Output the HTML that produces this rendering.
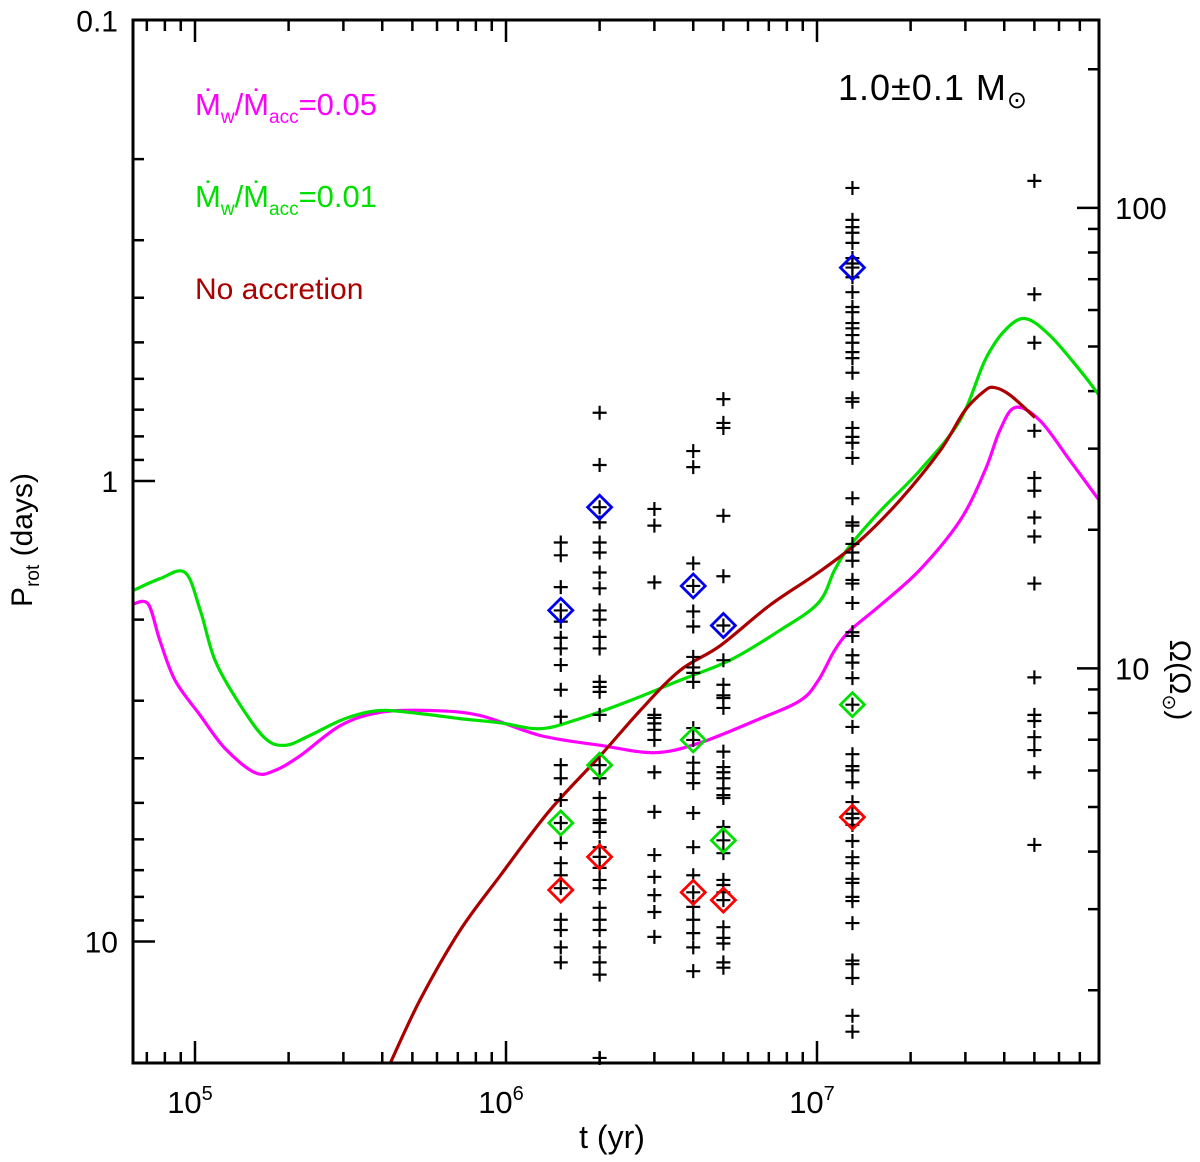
<!DOCTYPE html>
<html><head><meta charset="utf-8"><style>
html,body{margin:0;padding:0;background:#fff;}
svg{display:block;}
text{font-family:"Liberation Sans",sans-serif;}
</style></head><body>
<svg id="chart" width="1200" height="1162" viewBox="0 0 1200 1162" xmlns="http://www.w3.org/2000/svg">
<defs><clipPath id="plotclip"><rect x="133" y="20" width="966" height="1043"/></clipPath></defs>
<g id="ticks"></g>
<g id="curves" clip-path="url(#plotclip)"></g>
<g id="points"></g>
<rect x="133" y="20" width="966" height="1043" fill="none" stroke="#000" stroke-width="3"/>
<g id="labels"></g>
<text x="32" y="540" font-size="30" text-anchor="middle" transform="rotate(-90 32 540)">P<tspan font-size="19" dy="7">rot</tspan><tspan dy="-7"> (days)</tspan></text>
<text x="612" y="1148" font-size="32" text-anchor="middle" font-family="Liberation Serif, serif">t (yr)</text>
<text x="1170" y="680" font-size="30" text-anchor="middle" transform="rotate(90 1170 680)">Ω(Ω<tspan font-size="19" dy="7">⊙</tspan><tspan dy="-7">)</tspan></text>
<text x="195" y="115" font-size="31" fill="#ff00ff">Ṁ<tspan font-size="19" dy="8">w</tspan><tspan dy="-8">/Ṁ</tspan><tspan font-size="19" dy="8">acc</tspan><tspan dy="-8">=0.05</tspan></text>
<text x="195" y="207" font-size="31" fill="#00e000">Ṁ<tspan font-size="19" dy="8">w</tspan><tspan dy="-8">/Ṁ</tspan><tspan font-size="19" dy="8">acc</tspan><tspan dy="-8">=0.01</tspan></text>
<text x="195" y="299" font-size="30" fill="#aa0000" font-family="Liberation Mono, monospace">No accretion</text>
<text x="838" y="100" font-size="36" fill="#000" font-family="Liberation Serif, serif" letter-spacing="1">1.0±0.1  M<tspan font-size="24" dy="8">⊙</tspan></text>
</svg>
<script>
// ---- data ----
const magT=[6.32e4,7.07e4,7.71e4,8.63e4,1.04e5,1.25e5,1.56e5,1.81e5,2.18e5,2.93e5,3.93e5,5.70e5,8.25e5,1.29e6,2.01e6,3.01e6,4.21e6,6.56e6,8.82e6,1.01e7,1.14e7,1.28e7,1.60e7,2.14e7,2.88e7,3.47e7,3.87e7,4.34e7,5.21e7,6.51e7,8.07e7];
const magP=[1.85,1.85,2.22,2.71,3.23,3.81,4.30,4.25,3.95,3.40,3.18,3.15,3.23,3.57,3.75,3.89,3.70,3.28,3.00,2.71,2.33,2.11,1.86,1.56,1.22,0.949,0.777,0.692,0.739,0.903,1.10];
const grnT=[6.32e4,7.71e4,9.29e4,1.04e5,1.16e5,1.40e5,1.68e5,1.95e5,2.34e5,3.04e5,3.93e5,5.29e5,7.11e5,9.57e5,1.29e6,1.73e6,2.50e6,3.62e6,5.25e6,7.60e6,1.01e7,1.14e7,1.28e7,1.60e7,2.14e7,2.88e7,3.47e7,4.02e7,4.67e7,5.61e7,7.01e7,8.07e7];
const grnP=[1.73,1.63,1.58,1.91,2.45,3.07,3.62,3.75,3.57,3.28,3.15,3.20,3.28,3.35,3.45,3.28,3.00,2.71,2.45,2.11,1.84,1.56,1.38,1.16,0.949,0.739,0.547,0.471,0.444,0.483,0.575,0.651];
const redT=[4.24e5,5.29e5,7.11e5,9.57e5,1.38e6,2.01e6,2.70e6,3.62e6,4.88e6,7.06e6,1.01e7,1.37e7,1.85e7,2.49e7,2.99e7,3.47e7,3.73e7,4.18e7,5.02e7];
const redP=[18.4,13.4,9.47,7.20,5.20,3.95,3.15,2.58,2.28,1.86,1.58,1.35,1.10,0.859,0.703,0.636,0.627,0.651,0.728];
const colAges=[1.5e6,2e6,3e6,4e6,5e6,1.3e7,5e7];
const colP0=[1.36,1.45,1.70,1.91,2.02,2.19,2.31,2.51,2.84,3.25,4.14,4.42,4.93,5.53,6.11,6.76,7.18,7.66,8.97,9.44,10.3,11.1];
const colP1=[0.711,0.923,1.14,1.23,1.36,1.43,1.58,1.71,1.91,2.00,2.18,2.31,2.73,2.80,2.87,3.22,4.14,4.42,4.88,5.18,5.44,5.53,5.78,6.24,6.55,6.92,7.35,7.66,8.45,8.97,9.44,10.3,11.1,11.8,17.9];
const colP2=[1.15,1.25,1.66,3.22,3.27,3.36,3.47,3.65,4.29,5.23,6.49,7.24,7.93,8.63,9.77];
const colP3=[0.861,0.933,1.51,1.69,1.92,2.07,2.41,2.54,2.61,2.73,3.44,3.65,4.09,4.31,4.53,5.26,6.24,7.18,7.82,8.41,8.97,9.59,10.3,11.6];
const colP4=[0.664,0.748,0.767,1.19,1.61,2.06,2.45,2.77,2.92,2.96,3.11,3.87,4.18,4.29,4.42,4.65,4.81,4.88,5.64,6.03,6.43,7.35,7.54,7.82,8.13,9.31,9.82,10.1,11.1,11.4];
const colP5=[0.231,0.271,0.281,0.289,0.304,0.328,0.337,0.344,0.361,0.389,0.419,0.430,0.454,0.466,0.482,0.501,0.525,0.541,0.582,0.661,0.673,0.767,0.802,0.826,0.891,1.09,1.23,1.25,1.37,1.43,1.49,1.64,1.67,1.84,2.13,2.17,2.39,2.48,2.68,3.06,3.42,3.92,4.16,4.25,4.51,4.98,5.28,5.40,5.58,6.05,6.56,6.76,7.31,7.46,8.00,8.17,9.12,11.0,11.2,12.0,14.5,15.7];
const colP6=[0.223,0.393,0.501,0.778,0.985,1.05,1.20,1.32,1.67,2.67,3.22,3.32,3.60,3.84,4.29,6.17];
const diamondAges=[1.5e6,2e6,4e6,5e6,1.3e7];
const blueP=[1.91,1.14,1.69,2.06,0.344];
const greenDP=[5.53,4.14,3.65,6.03,3.06];
const redDP=[7.73,6.55,7.82,8.13,5.37];
const xTickLabels=["5","6","7"];
const yTickLabels=["0.1","1","10"];
const omegaTickLabels=["100","10"];

// ---- axes ----
const X0=195, XD=311, Y0=481, YD=460.5, L=133, R=1099, T=20, B=1063;
const OMK=25.52;
function xs(t){return X0+XD*(Math.log10(t)-5);}
function ys(p){return Y0+YD*Math.log10(p);}
const NS="http://www.w3.org/2000/svg";
function mk(tag,attrs,parent){const e=document.createElementNS(NS,tag);for(const k in attrs)e.setAttribute(k,attrs[k]);parent.appendChild(e);return e;}
const ticks=document.getElementById('ticks'), labels=document.getElementById('labels');
function line(x1,y1,x2,y2,name){const l=mk('line',{x1:x1,y1:y1,x2:x2,y2:y2,stroke:'#000','stroke-width':2.5},ticks);

}
for(let d=4;d<=7;d++){for(let m=1;m<=9;m++){const t=m*Math.pow(10,d);const x=xs(t);if(x<L+2||x>R-2)continue;const len=m===1?22:11;line(x,B,x,B-len,'x-tick');line(x,T,x,T+len,'x-tick-top');}}
xTickLabels.forEach((e,i)=>{const x=xs(Math.pow(10,+e));const tx=mk('text',{x:x-5,y:1113,'font-size':31,'text-anchor':'middle','font-family':'Liberation Serif, serif'},labels);tx.textContent='10';const s=mk('tspan',{'font-size':20,dy:-13},tx);s.textContent=e;

});
for(let d=-1;d<=1;d++){for(let m=1;m<=9;m++){const p=m*Math.pow(10,d);const y=ys(p);if(y<T+1||y>B-1)continue;line(L,y,L+(m===1?22:11),y,'y-tick');}}
yTickLabels.forEach(s=>{const y=ys(parseFloat(s));const tx=mk('text',{x:118,y:y+11,'font-size':30,'text-anchor':'end'},labels);tx.textContent=s;

});
for(let d=0;d<=2;d++){for(let m=1;m<=9;m++){const om=m*Math.pow(10,d);const y=ys(OMK/om);if(y<T+1||y>B-1)continue;line(R,y,R-(m===1?22:11),y,'omega-tick');}}
omegaTickLabels.forEach(s=>{const y=ys(OMK/parseFloat(s));const tx=mk('text',{x:1115,y:y+11,'font-size':31},labels);tx.textContent=s;

});
// smooth curves (Catmull-Rom)
const curves=document.getElementById('curves');
function curve(T_,P_,col,name){const p=T_.map((t,i)=>[xs(t),ys(P_[i])]);let d=`M${p[0][0]},${p[0][1]}`;
for(let i=0;i<p.length-1;i++){const p0=p[i-1]||p[i],p1=p[i],p2=p[i+1],p3=p[i+2]||p2;
const c1x=p1[0]+(p2[0]-p0[0])/6,c1y=p1[1]+(p2[1]-p0[1])/6,c2x=p2[0]-(p3[0]-p1[0])/6,c2y=p2[1]-(p3[1]-p1[1])/6;
d+=`C${c1x.toFixed(1)},${c1y.toFixed(1)} ${c2x.toFixed(1)},${c2y.toFixed(1)} ${p2[0].toFixed(1)},${p2[1].toFixed(1)}`;}
const pl=mk('path',{d:d,fill:'none',stroke:col,'stroke-width':3.2,'stroke-linejoin':'round'},curves);

}
curve(magT,magP,'#ff00ff','curve-wind-0.05');
curve(grnT,grnP,'#00e000','curve-wind-0.01');
curve(redT,redP,'#aa0000','curve-no-accretion');
const pts=document.getElementById('points');
const cols=[colP0,colP1,colP2,colP3,colP4,colP5,colP6];
cols.forEach((arr,ci)=>{const x=xs(colAges[ci]);arr.forEach(p=>{const y=ys(p);const path=mk('path',{d:`M${x-7},${y}H${x+7}M${x},${y-7}V${y+7}`,stroke:'#000','stroke-width':2.2,fill:'none'},pts);

});});
function diamonds(arr,col,name){arr.forEach((p,i)=>{const x=xs(diamondAges[i]),y=ys(p),r=12;const d=mk('path',{d:`M${x},${y-r}L${x+r},${y}L${x},${y+r}L${x-r},${y}Z`,stroke:col,'stroke-width':2.8,fill:'none'},pts);

});}
diamonds(blueP,'#0000ee','diamond-blue');
diamonds(greenDP,'#00e000','diamond-green');
diamonds(redDP,'#ff0000','diamond-red');
</script>
</body></html>
